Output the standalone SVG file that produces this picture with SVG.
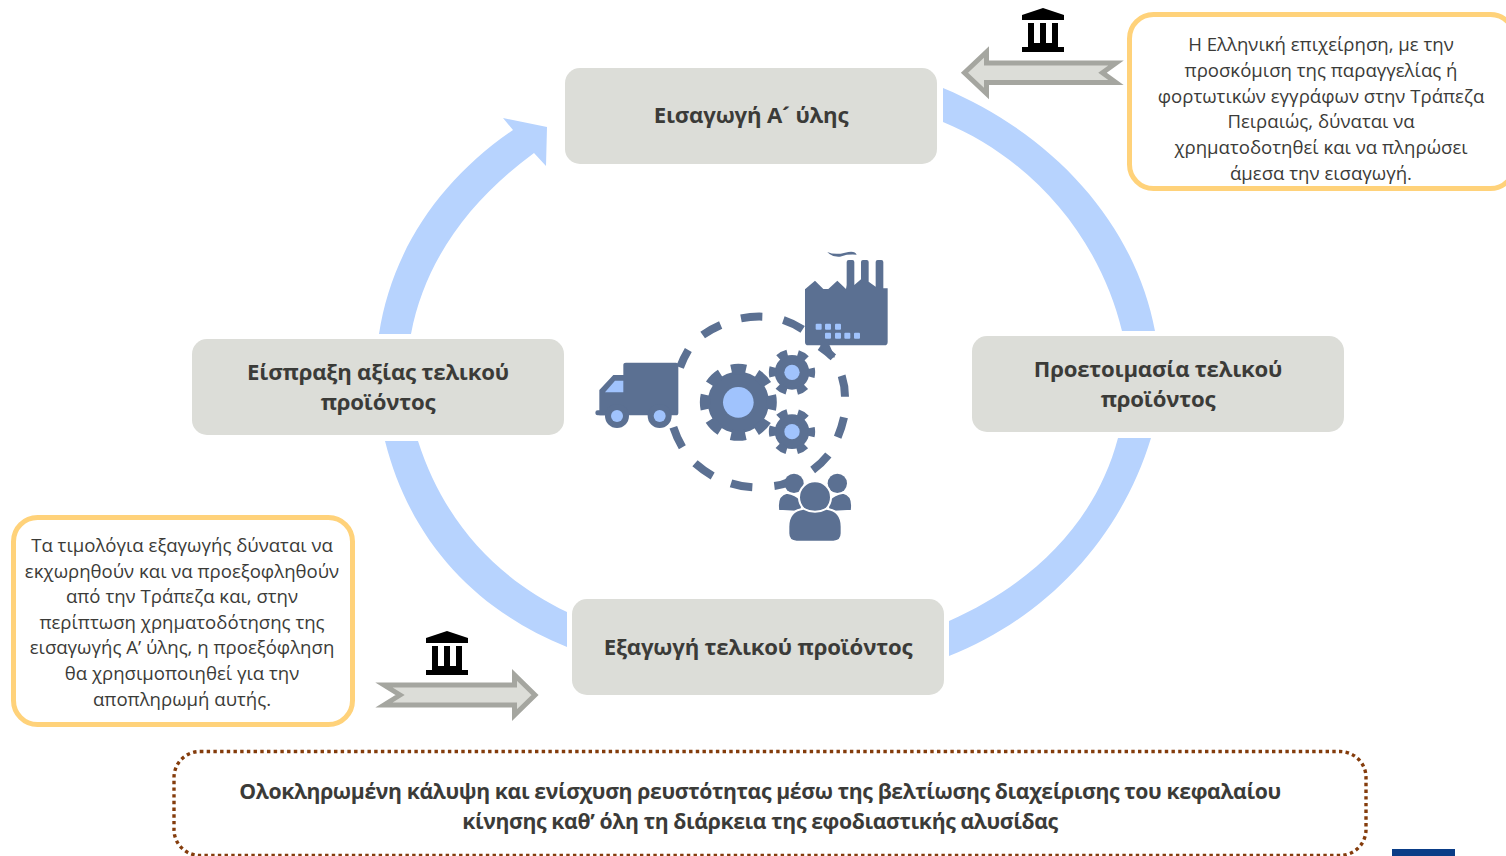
<svg xmlns="http://www.w3.org/2000/svg" width="1506" height="856" viewBox="0 0 1506 856">
<style>
text{font-family:"Open Sans","Noto Sans","Liberation Sans",sans-serif;text-anchor:middle;fill:#3b3b38}
.n rect{fill:#dcddd8}
.n text{font-size:22.2px;font-weight:700;letter-spacing:-.2px}
.c rect{fill:#fff;stroke:#ffd27a;stroke-width:5}
.c text{font-size:18.6px}
.flow{fill:#b7d3fe}
.ar{fill:#dcddd8;stroke:#a5a6a0;stroke-width:5;stroke-miterlimit:10}
.d{fill:#5b7092}
.l{fill:#a0c3fd}
.ds{fill:none;stroke:#5b7092;stroke-width:24}
.w{stroke:#fff;stroke-width:6}
.s{font-size:21.2px;font-weight:700;letter-spacing:-.37px}
</style>
<defs>
<g id="bank">
<path d="M1043 8 L1064 15 V20 H1022 V15 Z" fill="#000"/>
<path d="M1028 23H1034V44H1028ZM1040 23H1046V44H1040ZM1052 23H1058V44H1052ZM1028 43H1058V47H1028ZM1022 47H1064V52H1022Z" fill="#000"/>
</g>
<g id="gs"><circle r="52" class="d"/><circle r="58" fill="none" stroke="#5b7092" stroke-width="23" stroke-dasharray="29 31.73" stroke-dashoffset="14.5"/><circle r="23" class="l"/></g>
</defs>

<g id="connectors">
<path class="flow" d="M943 88 C1055 135 1135 225 1155 331 H1122 C1100 240 1035 160 943 122 Z"/>
<path class="flow" d="M1151 438 C1120 540 1045 618 949 656 V621 C1030 585 1095 525 1118 438 Z"/>
<path class="flow" d="M385 441 H418 C445 525 500 580 567 612 V647 C475 610 410 540 385 441 Z"/>
<path class="flow" d="M379 334 C392 250 440 180 513 130 L503 118 L547 127 L546 166 L534 153 C470 200 425 260 411 334 Z"/>
<polygon class="ar" points="964.5,72.7 986.5,52 986.5,63 1116,63 1102.5,72.7 1116,82.6 986.5,82.6 986.5,93.5"/>
<polygon class="ar" points="535,695 514.5,675 514.5,685 384,685 400,695 384,705 514.5,705 514.5,715"/>
</g>

<g id="bank1"><use href="#bank"/></g>
<g id="bank2"><use href="#bank" x="-596" y="623"/></g>

<g id="node-import" class="n"><rect x="565" y="68" width="372" height="96" rx="15"/><text x="751" y="123">Εισαγωγή Α´ ύλης</text></g>
<g id="node-prep" class="n"><rect x="972" y="336" width="372" height="96" rx="15"/><text x="1158" y="377">Προετοιμασία τελικού</text><text x="1158" y="407">προϊόντος</text></g>
<g id="node-export" class="n"><rect x="572" y="599" width="372" height="96" rx="15"/><text x="758" y="655">Εξαγωγή τελικού προϊόντος</text></g>
<g id="node-collect" class="n"><rect x="192" y="339" width="372" height="96" rx="15"/><text x="378" y="380">Είσπραξη αξίας τελικού</text><text x="378" y="410">προϊόντος</text></g>

<g id="note-top" class="c"><rect x="1129.5" y="14.5" width="385" height="174" rx="24"/>
<text x="1321" y="51">Η Ελληνική επιχείρηση, με την</text>
<text x="1321" y="77">προσκόμιση της παραγγελίας ή</text>
<text x="1321" y="103">φορτωτικών εγγράφων στην Τράπεζα</text>
<text x="1321" y="128">Πειραιώς, δύναται να</text>
<text x="1321" y="154">χρηματοδοτηθεί και να πληρώσει</text>
<text x="1321" y="180">άμεσα την εισαγωγή.</text></g>

<g id="note-bottom" class="c"><rect x="13.5" y="517.5" width="339" height="207" rx="24"/>
<text x="182" y="552">Τα τιμολόγια εξαγωγής δύναται να</text>
<text x="182" y="578">εκχωρηθούν και να προεξοφληθούν</text>
<text x="182" y="603">από την Τράπεζα και, στην</text>
<text x="182" y="629">περίπτωση χρηματοδότησης της</text>
<text x="182" y="654">εισαγωγής Α’ ύλης, η προεξόφληση</text>
<text x="182" y="680">θα χρησιμοποιηθεί για την</text>
<text x="182" y="706">αποπληρωμή αυτής.</text></g>

<g id="icon" transform="translate(590 240) scale(.33333)">
<g id="dashes">
<path class="ds" d="M270 382Q280 355 295 330M338 285Q362 268 392 255M453 235Q485 229 517 230M580 240Q610 250 638 268M690 320Q712 335 730 352M755 407Q765 438 765 470M762 532Q755 563 743 592M715 645Q695 670 668 690M553 738Q578 735 600 725M487 742Q455 740 423 730M368 708Q340 692 315 670M277 622Q260 593 250 562"/>
</g>
<g id="truck">
<path class="d" d="M108 368H258Q265 368 265 375V518Q265 526 258 526H28V450L70 405H100V375Q100 368 108 368Z"/>
<rect class="d" x="16" y="511" width="40" height="15" rx="7"/>
<path class="l" d="M45 457L75 422H100V457Z"/>
<circle class="d" cx="81" cy="528" r="36"/><circle class="l" cx="81" cy="528" r="18"/>
<circle class="d" cx="209" cy="528" r="36"/><circle class="l" cx="209" cy="528" r="18"/>
</g>
<g id="factory">
<path class="d" d="M770 135V66Q770 60 776 60H787Q793 60 793 66V135L813 118V66Q813 60 819 60H830Q836 60 836 66V125L857 140V66Q857 60 863 60H874Q880 60 880 66V145H893V306Q893 316 883 316H655Q645 316 645 306V148L675 122L700 147H715L742 122L768 147Z"/>
<path class="d" d="M690 314L718 314L735 352L715 355Z"/>
<path class="d" d="M712 36Q735 46 765 38T800 44Q770 42 750 50Q725 52 712 36Z"/>
<g class="l"><rect x="677" y="251" width="18" height="18" rx="3"/><rect x="705" y="251" width="18" height="18" rx="3"/><rect x="735" y="251" width="18" height="18" rx="3"/><rect x="705" y="278" width="18" height="18" rx="3"/><rect x="735" y="278" width="18" height="18" rx="3"/><rect x="763" y="278" width="18" height="18" rx="3"/><rect x="792" y="278" width="18" height="18" rx="3"/></g>
</g>
<g id="gears">
<circle class="d" cx="445" cy="487" r="92"/>
<circle cx="445" cy="487" r="100" fill="none" stroke="#5b7092" stroke-width="31" stroke-dasharray="44 34.54" stroke-dashoffset="22"/>
<circle class="l" cx="445" cy="487" r="46"/>
<use href="#gs" x="606" y="397"/>
<use href="#gs" x="606" y="575"/>
</g>
<g id="people">
<path class="d w" d="M565 812Q558 765 590 758Q650 770 632 816Z"/>
<path class="d w" d="M785 812Q792 765 760 758Q700 770 718 816Z"/>
<circle class="d" cx="612" cy="730" r="29"/><circle class="d" cx="742" cy="730" r="29"/>
<circle class="d w" cx="675" cy="772" r="48"/>
<path class="d w" d="M620 905Q595 905 595 880V860Q595 812 640 806Q675 825 710 806Q755 812 755 860V880Q755 905 730 905Z"/>
</g>
</g>

<g id="summary">
<rect x="174" y="751.5" width="1192" height="104" rx="26" fill="#fff" stroke="#843c0c" stroke-width="3.4" stroke-dasharray="3.4 3.3"/>
<text class="s" x="760" y="799">Ολοκληρωμένη κάλυψη και ενίσχυση ρευστότητας μέσω της βελτίωσης διαχείρισης του κεφαλαίου</text>
<text class="s" x="760" y="829">κίνησης καθ’ όλη τη διάρκεια της εφοδιαστικής αλυσίδας</text>
</g>
<rect id="logo" x="1392" y="849" width="63" height="7" fill="#0a3d87"/>
</svg>
